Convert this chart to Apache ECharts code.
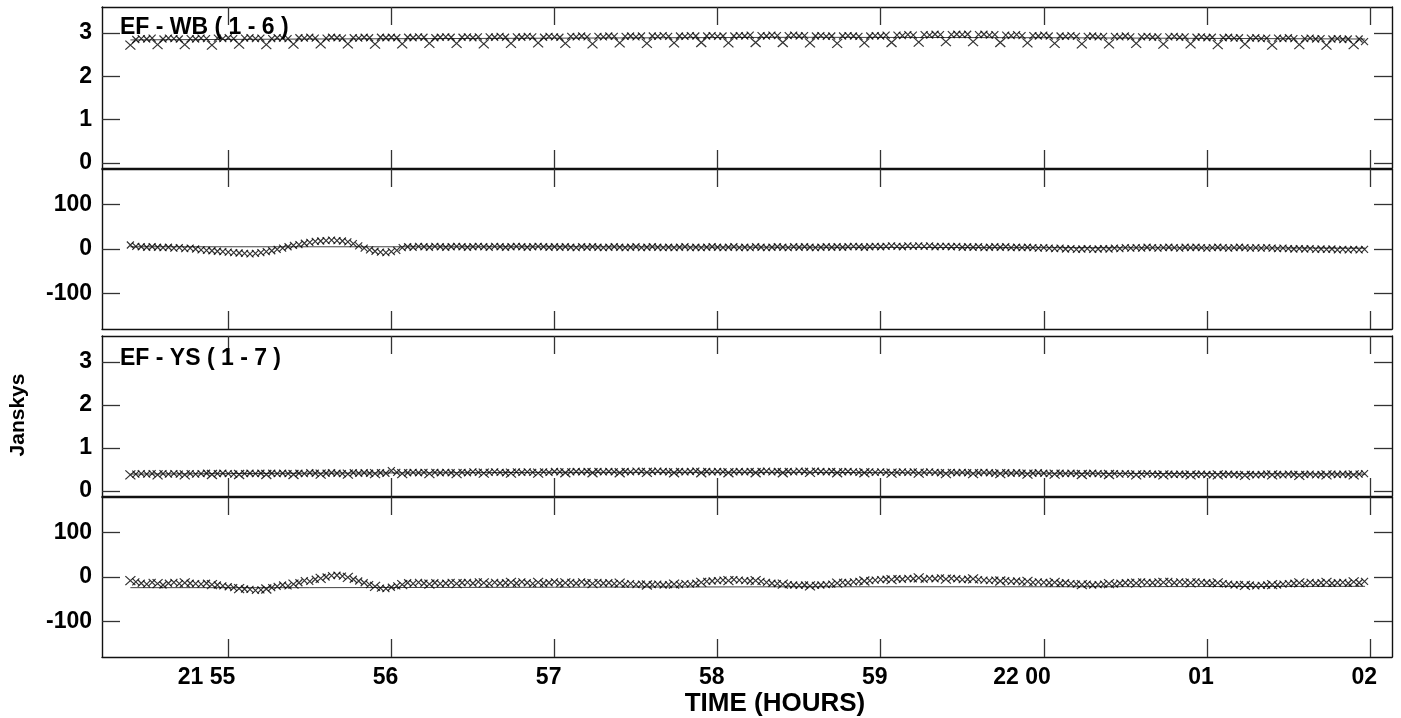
<!DOCTYPE html>
<html>
<head>
<meta charset="utf-8">
<title>EF - WB / EF - YS</title>
<script src="https://cdn.jsdelivr.net/npm/echarts@6/dist/echarts.min.js"></script>
<style>
  html, body { margin: 0; background: #fff; }
  #chart { width: 1401px; height: 718px; }
</style>
</head>
<body>
<div id="chart"></div>
<script>
// time grid: minutes after 21:00, one sample every 2 s
const T0 = 54.4;
const STEP = 1 / 30;

const xTicks = [55, 56, 57, 58, 59, 60, 61, 62];
const xTickLabels = ['21 55', '56', '57', '58', '59', '22 00', '01', '02'];
const ampTicks = [0, 1, 2, 3];
const phaseTicks = [-100, 0, 100];

// EF - WB amplitude (Jy)
const wbAmp = [
  2.72,2.85,2.87,2.86,2.88, 2.73,2.86,2.88,2.87,2.86,
  2.73,2.87,2.86,2.88,2.87, 2.72,2.88,2.87,2.89,2.87,
  2.74,2.88,2.89,2.87,2.88, 2.73,2.87,2.89,2.88,2.87,
  2.74,2.89,2.88,2.90,2.88, 2.75,2.88,2.90,2.89,2.88,
  2.75,2.89,2.88,2.90,2.89, 2.74,2.90,2.89,2.90,2.89,
  2.75,2.90,2.89,2.91,2.90, 2.76,2.89,2.90,2.91,2.90,
  2.76,2.90,2.91,2.89,2.91, 2.75,2.91,2.90,2.92,2.90,
  2.76,2.91,2.90,2.92,2.91, 2.77,2.90,2.92,2.91,2.90,
  2.76,2.92,2.91,2.93,2.91, 2.75,2.92,2.91,2.93,2.92,
  2.77,2.92,2.93,2.91,2.93, 2.76,2.93,2.92,2.94,2.92,
  2.77,2.93,2.92,2.94,2.93, 2.78,2.93,2.94,2.92,2.93,
  2.77,2.93,2.94,2.93,2.95, 2.78,2.94,2.93,2.95,2.94,
  2.78,2.94,2.95,2.93,2.94, 2.77,2.93,2.94,2.92,2.93,
  2.76,2.93,2.94,2.93,2.92, 2.77,2.93,2.94,2.93,2.95,
  2.78,2.95,2.94,2.96,2.95, 2.79,2.96,2.95,2.97,2.96,
  2.80,2.96,2.97,2.96,2.97, 2.80,2.96,2.97,2.95,2.96,
  2.78,2.95,2.94,2.96,2.94, 2.77,2.94,2.93,2.95,2.93,
  2.76,2.93,2.92,2.94,2.92, 2.75,2.92,2.93,2.91,2.92,
  2.75,2.92,2.91,2.93,2.91, 2.76,2.91,2.92,2.90,2.91,
  2.74,2.91,2.92,2.90,2.91, 2.75,2.90,2.91,2.89,2.90,
  2.73,2.89,2.90,2.88,2.89, 2.74,2.88,2.89,2.87,2.88,
  2.72,2.88,2.87,2.89,2.87, 2.73,2.87,2.88,2.86,2.87,
  2.72,2.86,2.87,2.85,2.86, 2.73,2.86,2.80
];

// EF - WB phase (deg)
const wbPhase = [
  9,6,5,4,5, 4,3,4,2,3,
  1,2,0,-2,-3, -4,-5,-6,-7,-8,
  -9,-10,-11,-10,-8, -6,-4,-1,2,5,
  8,10,13,15,17, 18,19,20,19,18,
  16,12,7,2,-2, -5,-7,-8,-6,-3,
  3,5,4,6,5, 4,6,5,4,5,
  6,5,4,5,6, 5,4,6,5,4,
  5,6,5,4,5, 6,5,4,5,4,
  5,4,3,5,4, 5,4,3,4,5,
  4,3,4,5,3, 4,5,4,3,4,
  3,4,5,3,4, 3,4,5,4,3,
  4,5,3,4,3, 5,4,3,4,5,
  4,3,5,4,5, 4,3,4,5,4,
  5,4,5,6,5, 4,5,6,5,6,
  7,6,5,7,6, 7,6,7,5,6,
  6,5,6,4,5, 4,5,3,4,5,
  4,5,3,4,3, 4,3,2,3,2,
  1,2,0,1,-1, 0,1,-1,0,1,
  0,2,1,3,2, 3,2,4,3,2,
  3,4,3,2,4, 3,4,3,2,3,
  4,3,2,3,4, 3,2,3,2,3,
  2,1,2,1,0, 1,0,1,-1,0,
  -1,0,-2,-1,-2, -1,-2,-1
];

// EF - YS amplitude (Jy)
const ysAmp = [
  0.37,0.39,0.40,0.39,0.40, 0.37,0.40,0.39,0.40,0.39,
  0.37,0.40,0.39,0.40,0.41, 0.38,0.40,0.41,0.40,0.39,
  0.38,0.40,0.41,0.40,0.41, 0.38,0.41,0.40,0.41,0.40,
  0.38,0.41,0.40,0.42,0.41, 0.39,0.41,0.42,0.41,0.40,
  0.39,0.42,0.41,0.42,0.41, 0.40,0.42,0.41,0.47,0.43,
  0.40,0.42,0.43,0.42,0.43, 0.40,0.43,0.42,0.43,0.42,
  0.40,0.43,0.42,0.44,0.43, 0.41,0.43,0.44,0.43,0.42,
  0.41,0.44,0.43,0.44,0.43, 0.41,0.44,0.43,0.45,0.44,
  0.42,0.44,0.45,0.44,0.45, 0.42,0.45,0.44,0.45,0.44,
  0.42,0.45,0.44,0.46,0.45, 0.43,0.45,0.46,0.45,0.44,
  0.42,0.45,0.44,0.45,0.46, 0.42,0.45,0.44,0.45,0.44,
  0.42,0.44,0.45,0.44,0.45, 0.42,0.45,0.46,0.44,0.45,
  0.42,0.45,0.44,0.46,0.45, 0.43,0.46,0.45,0.44,0.45,
  0.42,0.44,0.45,0.44,0.43, 0.42,0.44,0.43,0.44,0.43,
  0.41,0.43,0.44,0.43,0.44, 0.41,0.43,0.44,0.43,0.42,
  0.40,0.43,0.42,0.43,0.42, 0.40,0.42,0.43,0.42,0.41,
  0.40,0.42,0.41,0.42,0.41, 0.39,0.41,0.42,0.41,0.40,
  0.39,0.41,0.40,0.41,0.40, 0.38,0.40,0.41,0.40,0.39,
  0.38,0.40,0.39,0.40,0.39, 0.37,0.39,0.40,0.39,0.38,
  0.37,0.39,0.38,0.39,0.38, 0.37,0.38,0.39,0.38,0.37,
  0.37,0.38,0.39,0.38,0.37, 0.36,0.38,0.37,0.38,0.39,
  0.37,0.38,0.37,0.39,0.38, 0.36,0.38,0.39,0.37,0.38,
  0.37,0.39,0.38,0.39,0.38, 0.37,0.39,0.40
];

// EF - YS phase (deg)
const ysPhase = [
  -8,-11,-14,-16,-12, -15,-18,-14,-12,-15,
  -13,-14,-15,-16,-14, -17,-18,-20,-22,-24,
  -26,-27,-28,-30,-29, -27,-24,-21,-18,-20,
  -16,-13,-8,-10,-5, -3,0,3,4,2,
  -1,-5,-9,-13,-17, -21,-25,-26,-23,-20,
  -17,-13,-15,-12,-14, -16,-13,-15,-14,-12,
  -15,-13,-12,-14,-11, -13,-15,-12,-14,-13,
  -12,-14,-11,-13,-15, -12,-14,-13,-11,-14,
  -13,-12,-14,-11,-13, -15,-12,-14,-13,-15,
  -14,-16,-15,-17,-16, -18,-17,-16,-18,-17,
  -16,-17,-15,-16,-14, -12,-10,-9,-8,-7,
  -8,-6,-7,-8,-9, -8,-10,-12,-14,-15,
  -16,-17,-18,-19,-18, -20,-19,-18,-17,-16,
  -14,-12,-13,-11,-10, -9,-8,-7,-6,-5,
  -6,-4,-5,-3,-4, -2,-5,-3,-4,-2,
  -5,-3,-4,-6,-5, -4,-6,-7,-8,-7,
  -9,-8,-10,-9,-11, -10,-12,-11,-12,-13,
  -12,-14,-13,-15,-16, -17,-16,-18,-17,-16,
  -15,-16,-14,-13,-12, -14,-11,-12,-13,-11,
  -12,-10,-13,-11,-12, -13,-11,-12,-13,-14,
  -13,-15,-16,-18,-17, -19,-18,-20,-19,-18,
  -17,-18,-16,-15,-14, -13,-15,-12,-14,-13,
  -12,-14,-13,-12,-14, -11,-13,-10
];

// model curves drawn as thin lines
const modelTimes = [54.4, 55.5, 57.0, 58.5, 60.0, 61.97];
const wbAmpModel = [2.84, 2.86, 2.88, 2.90, 2.89, 2.86];
const wbPhaseModel = [5, 5, 5, 4, 3, 2];
const ysAmpModel = [0.39, 0.41, 0.43, 0.43, 0.41, 0.39];
const ysPhaseModel = [-24, -24, -23, -22, -22, -21];

const times = wbAmp.map((_, i) => T0 + i * STEP);

const FONT = '"Liberation Sans", Arial, Helvetica, sans-serif';
const CROSS = 'path://M0,0L10,10M10,0L0,10';
const X_MIN = 54.226;
const X_MAX = 62.135;

const panels = [
  { top: 7, height: 161, min: -0.12, max: 3.6, ticks: ampTicks, values: wbAmp, model: wbAmpModel, big: true },
  { top: 169, height: 160, min: -180, max: 180, ticks: phaseTicks, values: wbPhase, model: wbPhaseModel, big: false },
  { top: 336, height: 160, min: -0.12, max: 3.6, ticks: ampTicks, values: ysAmp, model: ysAmpModel, big: true },
  { top: 497, height: 160, min: -180, max: 180, ticks: phaseTicks, values: ysPhase, model: ysPhaseModel, big: true }
];

const frameLine = { lineStyle: { color: '#111', width: 1.4 } };
const tickStyle = { color: '#333', width: 1.3 };

const grid = [];
const xAxis = [];
const yAxis = [];
const series = [];

panels.forEach((p, k) => {
  grid.push({ left: 102, right: 9, top: p.top, height: p.height });

  ['bottom', 'top'].forEach((pos) => {
    xAxis.push({
      type: 'value', gridIndex: k, position: pos, min: X_MIN, max: X_MAX,
      axisLine: { show: true, onZero: false, ...frameLine },
      axisTick: { show: true, inside: true, length: 18, customValues: xTicks, lineStyle: tickStyle },
      axisLabel: {
        show: k === 3 && pos === 'bottom',
        customValues: xTicks,
        formatter: (v) => xTickLabels[xTicks.indexOf(Math.round(v))] || '',
        align: 'right', padding: [0, -7, 0, 0], margin: 9,
        color: '#000', fontFamily: FONT, fontWeight: 'bold', fontSize: 23
      },
      splitLine: { show: false }
    });
  });

  ['left', 'right'].forEach((pos) => {
    yAxis.push({
      type: 'value', gridIndex: k, position: pos, min: p.min, max: p.max,
      axisLine: { show: true, onZero: false, ...frameLine },
      axisTick: { show: true, inside: true, length: 18, customValues: p.ticks, lineStyle: tickStyle },
      axisLabel: {
        show: pos === 'left',
        customValues: p.ticks,
        formatter: (v) => String(v),
        margin: 10, padding: [5, 0, 0, 0],
        color: '#000', fontFamily: FONT, fontWeight: 'bold', fontSize: 23
      },
      splitLine: { show: false }
    });
  });

  series.push({
    type: 'line', xAxisIndex: 2 * k, yAxisIndex: 2 * k,
    data: modelTimes.map((t, i) => [t, p.model[i]]),
    symbol: 'none', lineStyle: { color: '#444', width: 1 }, z: 2
  });

  series.push({
    type: 'scatter', xAxisIndex: 2 * k, yAxisIndex: 2 * k,
    data: times.map((t, i) => [t, p.values[i]]),
    symbol: CROSS,
    symbolSize: (val, params) => (p.big && params.dataIndex % 5 === 0 ? [10, 9] : [7, 7]),
    itemStyle: { color: 'transparent', borderColor: '#000', borderWidth: 1.2 },
    z: 3
  });
});

const label = (text, x, y, size, extra) => ({
  type: 'text', x, y, z: 10,
  style: { text, fill: '#000', font: `bold ${size}px ${FONT}`, ...extra }
});

const chart = echarts.init(document.getElementById('chart'), null, { renderer: 'canvas' });
chart.setOption({
  animation: false,
  backgroundColor: '#fff',
  grid, xAxis, yAxis, series,
  graphic: [
    label('EF - WB ( 1 - 6 )', 120, 16, 23, { textVerticalAlign: 'top' }),
    label('EF - YS ( 1 - 7 )', 120, 347, 23, { textVerticalAlign: 'top' }),
    label('TIME (HOURS)', 775, 704, 26, { textAlign: 'center', textVerticalAlign: 'middle' }),
    {
      type: 'text', x: 18, y: 415, rotation: Math.PI / 2, z: 10,
      style: { text: 'Janskys', fill: '#000', font: `bold 21px ${FONT}`, textAlign: 'center', textVerticalAlign: 'middle' }
    }
  ]
});
</script>
</body>
</html>
